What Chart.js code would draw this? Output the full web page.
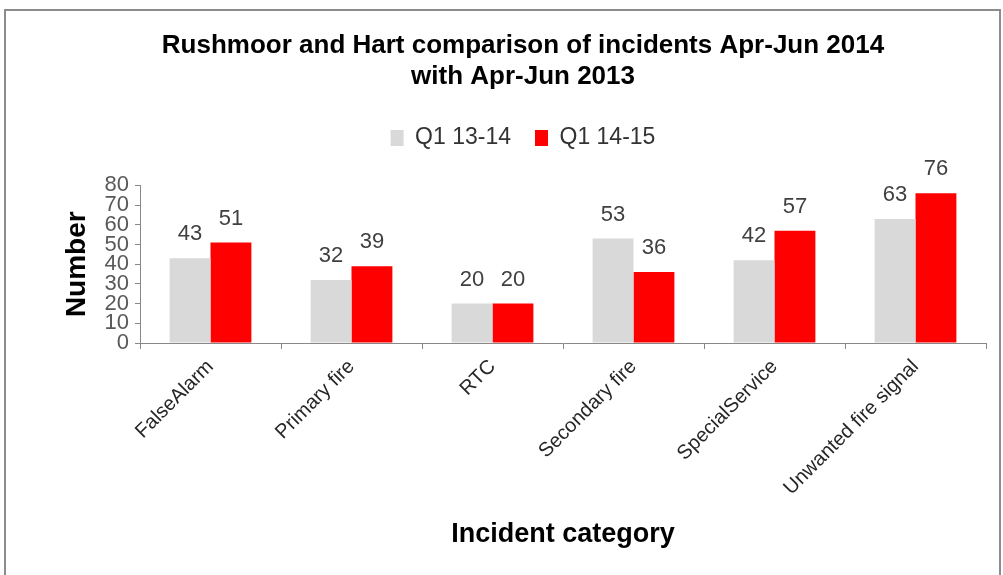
<!DOCTYPE html>
<html>
<head>
<meta charset="utf-8">
<script src="https://cdn.jsdelivr.net/npm/chart.js@4/dist/chart.umd.min.js"></script>
<style>
  html, body { margin: 0; padding: 0; background: #fff; }
  #wrap { width: 1003px; height: 575px; position: relative; }
</style>
</head>
<body>
<div id="wrap"><canvas id="myChart" width="1003" height="575"></canvas></div>
<script>
// chart values
const categories = ['FalseAlarm', 'Primary fire', 'RTC', 'Secondary fire', 'SpecialService', 'Unwanted fire signal'];
const seriesNames = ['Q1 13-14', 'Q1 14-15'];
const q1_1314 = [43, 32, 20, 53, 42, 63];
const q1_1415 = [51, 39, 20, 36, 57, 76];
const yTicks = [0, 10, 20, 30, 40, 50, 60, 70, 80];

const FONT = "'Liberation Sans', Arial, sans-serif";

// gray frame round the whole chart
const framePlugin = {
    id: 'frame',
    beforeDraw(chart) {
        const c = chart.ctx;
        c.save();
        c.fillStyle = '#fff';
        c.fillRect(0, 0, chart.width, chart.height);
        c.strokeStyle = '#8c8c8c';
        c.lineWidth = 2;
        c.strokeRect(5, 10, 995, 600);
        c.restore();
    }
};

// extra room under the legend
const legendGap = {
    id: 'legendGap',
    beforeInit(chart) {
        const origFit = chart.legend.fit;
        chart.legend.fit = function () {
            origFit.bind(chart.legend)();
            this.height += 26;
        };
    }
};

// value labels above each bar
const valueLabels = {
    id: 'valueLabels',
    afterDatasetsDraw(chart) {
        const c = chart.ctx;
        c.save();
        c.font = '22px ' + FONT;
        c.fillStyle = '#404040';
        c.textAlign = 'center';
        c.textBaseline = 'bottom';
        chart.data.datasets.forEach((ds, i) => {
            chart.getDatasetMeta(i).data.forEach((bar, j) => {
                c.fillText(ds.data[j], bar.x, bar.y - 13);
            });
        });
        c.restore();
    }
};

const ctx = document.getElementById('myChart').getContext('2d');
new Chart(ctx, {
    type: 'bar',
    data: {
        labels: categories,
        datasets: [
            { label: seriesNames[0], data: q1_1314, backgroundColor: '#d9d9d9' },
            { label: seriesNames[1], data: q1_1415, backgroundColor: '#ff0000' }
        ]
    },
    options: {
        responsive: false,
        animation: false,
        layout: { padding: { left: 60, right: 17, top: 30, bottom: 0 } },
        datasets: { bar: { categoryPercentage: 0.58, barPercentage: 1.0 } },
        plugins: {
            title: {
                display: true,
                text: ['Rushmoor and Hart comparison of incidents Apr-Jun 2014', 'with Apr-Jun 2013'],
                font: { family: FONT, size: 26, weight: 'bold' },
                color: '#000',
                lineHeight: 1.0,
                padding: { top: 0, bottom: 10 }
            },
            legend: {
                position: 'top',
                labels: {
                    font: { family: FONT, size: 23 },
                    color: '#333',
                    boxWidth: 13,
                    boxHeight: 16,
                    padding: 24
                }
            },
            tooltip: { enabled: false }
        },
        scales: {
            x: {
                grid: { drawOnChartArea: false, drawTicks: true, tickLength: 6, color: '#888' },
                border: { color: '#888', width: 1 },
                ticks: {
                    font: { family: FONT, size: 20 },
                    color: '#262626',
                    minRotation: 45,
                    maxRotation: 45,
                    padding: 6
                },
                title: {
                    display: true,
                    text: 'Incident category',
                    font: { family: FONT, size: 27, weight: 'bold' },
                    color: '#000',
                    padding: { top: 0, bottom: 24 }
                },
                afterFit(scale) { scale.height = 232; }
            },
            y: {
                min: 0,
                max: 80,
                afterBuildTicks(scale) { scale.ticks = yTicks.map(v => ({ value: v })); },
                grid: { drawOnChartArea: false, drawTicks: true, tickLength: 5, color: '#888' },
                border: { color: '#888', width: 1 },
                ticks: {
                    font: { family: FONT, size: 22, lineHeight: 0.9 },
                    color: '#595959',
                    padding: 6,
                    autoSkip: false
                },
                title: {
                    display: true,
                    text: 'Number',
                    font: { family: FONT, size: 28, weight: 'bold' },
                    color: '#000',
                    padding: { top: 0, bottom: 2 }
                },
                afterFit(scale) { scale.width = 80; }
            }
        }
    },
    plugins: [framePlugin, legendGap, valueLabels]
});
</script>
</body>
</html>
